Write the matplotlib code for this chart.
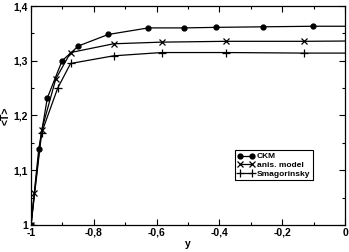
import numpy as np
import matplotlib.pyplot as plt
from matplotlib.ticker import MultipleLocator, FuncFormatter

# data
ckm_y = [-1.0, -0.9755, -0.948, -0.901, -0.849, -0.754, -0.626, -0.513, -0.410, -0.261, -0.101, 0.0]
ckm_t = [1.0, 1.138, 1.232, 1.300, 1.327, 1.348, 1.360, 1.360, 1.361, 1.362, 1.363, 1.363]

anis_y = [-1.0, -0.989, -0.966, -0.921, -0.874, -0.737, -0.584, -0.378, -0.131, 0.0]
anis_t = [1.0, 1.059, 1.1735, 1.267, 1.315, 1.331, 1.334, 1.3355, 1.3355, 1.336]

smag_y = [-1.0, -0.966, -0.915, -0.874, -0.737, -0.584, -0.378, -0.131, 0.0]
smag_t = [1.0, 1.1686, 1.250, 1.295, 1.309, 1.315, 1.315, 1.314, 1.314]

plt.rcParams['font.family'] = ['Liberation Sans', 'DejaVu Sans']
plt.rcParams['font.weight'] = 'bold'

fig = plt.figure(figsize=(3.49, 2.52), dpi=100)
ax = fig.add_axes([31/349, 1 - 225/252, 314/349, 219/252])

n = len(ckm_y)
ax.plot(ckm_y, ckm_t, color='black', lw=0.9, marker='o', ms=3.5,
        markevery=list(range(n - 1)), label='CKM')
ax.plot(anis_y, anis_t, color='black', lw=0.9, marker='x', ms=4.2, mew=0.9,
        markevery=list(range(len(anis_y) - 1)), label='anis. model')
ax.plot(smag_y, smag_t, color='black', lw=0.9, marker='+', ms=6, mew=0.9,
        markevery=list(range(len(smag_y) - 1)), label='Smagorinsky')

ax.set_xlim(-1, 0)
ax.set_ylim(1.0, 1.4)

def comma(v, pos):
    s = ('%.1f' % v).replace('.', ',')
    if s.endswith(',0'):
        s = s[:-2]
    if s == '-0':
        s = '0'
    return s

ax.xaxis.set_major_locator(MultipleLocator(0.2))
ax.xaxis.set_minor_locator(MultipleLocator(0.1))
ax.yaxis.set_major_locator(MultipleLocator(0.1))
ax.yaxis.set_minor_locator(MultipleLocator(0.05))
ax.xaxis.set_major_formatter(FuncFormatter(comma))
ax.yaxis.set_major_formatter(FuncFormatter(comma))

ax.tick_params(which='both', direction='in', top=True, right=True, labelsize=7.5, pad=2)
ax.tick_params(which='major', length=4, width=0.8)
ax.tick_params(which='minor', length=2, width=0.8)
for s in ax.spines.values():
    s.set_linewidth(0.9)

ax.set_xlabel('y', fontsize=7.5, fontweight='bold', labelpad=1)
ax.set_ylabel('<T>', fontsize=7.5, fontweight='bold', labelpad=2)

leg = ax.legend(loc='upper left', bbox_to_anchor=(0.65, 0.342), fontsize=6,
                numpoints=2, handlelength=2.0, handletextpad=0.3, borderpad=0.3,
                labelspacing=0.1, fancybox=False, framealpha=1, borderaxespad=0)
leg.get_frame().set_edgecolor('black')
leg.get_frame().set_linewidth(0.8)

fig.savefig('out.png', dpi=100)
